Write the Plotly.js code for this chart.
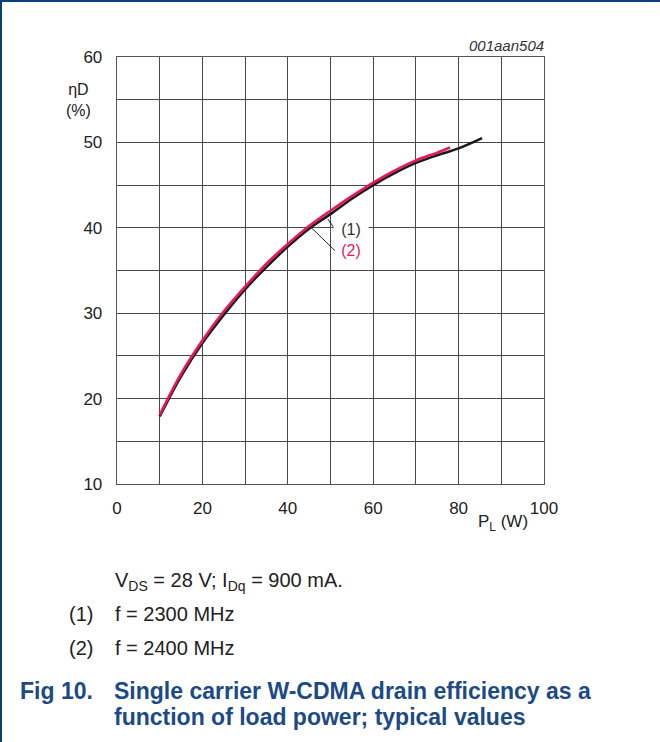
<!DOCTYPE html>
<html>
<head>
<meta charset="utf-8">
<script src="https://cdn.plot.ly/plotly-3.0.1.min.js"></script>
<style>
  html, body { margin: 0; padding: 0; background: #fff; }
  #chart { width: 660px; height: 742px; }
</style>
</head>
<body>
<div id="chart"></div>
<script>
// ---- data ----
const x1 = [10, 15, 20, 25, 30, 35, 40, 45, 50, 55, 60, 65, 70, 75, 80, 85.5];
const y1 = [17.9, 22.6, 26.5, 29.8, 32.8, 35.4, 37.8, 39.9, 41.6, 43.4, 45.0, 46.4, 47.6, 48.5, 49.3, 50.5];
const x2 = [10, 15, 20, 25, 30, 35, 40, 45, 50, 55, 60, 65, 70, 75, 78];
const y2 = [18.1, 22.9, 26.8, 30.2, 33.1, 35.8, 38.1, 40.2, 42.0, 43.7, 45.3, 46.7, 47.9, 48.8, 49.4];
const seriesLabels = ['(1)', '(2)'];
const labelX = [54.8, 54.8];
const labelY = [39.86, 37.3];
const leaderFrom = [[49.35, 41.03], [45.44, 40.05]];
const leaderTo = [[51.05, 39.86], [51.05, 37.32]];
const xTicks = [0, 20, 40, 60, 80, 100];
const yTicks = [10, 20, 30, 40, 50, 60];
const yTitle = 'ηD<br>(%)';
const xTitle = 'P<sub>L</sub> (W)';
const conditions = 'V<sub>DS</sub> = 28 V; I<sub>Dq</sub> = 900 mA.';
const notes = [['(1)', 'f = 2300 MHz'], ['(2)', 'f = 2400 MHz']];
const figNo = 'Fig 10.';
const figTitle = ['Single carrier W-CDMA drain efficiency as a', 'function of load power; typical values'];
const code = '001aan504';

// ---- layout helpers ----
const W = 660, H = 742;
const L = 117, R = 544, T = 57, B = 484;
const px = x => (x - L) / (R - L);
const py = y => (B - y) / (B - T);
const FONT = 'Liberation Sans, Arial, Helvetica, sans-serif';
const PINK = '#e8175d';
const BLUE = '#1b4a86';
const TXT = '#222';

const traces = [
  {x: x1, y: y1, mode: 'lines', line: {color: '#1a1a1a', width: 2.6, shape: 'spline'}, hoverinfo: 'skip'},
  {x: x2, y: y2, mode: 'lines', line: {color: PINK, width: 2.6, shape: 'spline'}, hoverinfo: 'skip'}
];

const annotations = [];
const shapes = [];

seriesLabels.forEach((t, i) => {
  annotations.push({x: labelX[i], y: labelY[i], xref: 'x', yref: 'y', text: t, showarrow: false,
    font: {family: FONT, size: 16, color: i === 0 ? '#333' : PINK},
    bgcolor: i === 0 ? '#fff' : 'rgba(0,0,0,0)', borderpad: 0, width: 34, xanchor: 'center'});
  shapes.push({type: 'line', xref: 'x', yref: 'y', x0: leaderFrom[i][0], y0: leaderFrom[i][1],
    x1: leaderTo[i][0], y1: leaderTo[i][1], line: {color: '#222', width: 1}});
});

// axis titles
annotations.push({xref: 'paper', yref: 'paper', x: px(78), y: py(100), text: yTitle, showarrow: false,
  font: {family: FONT, size: 16, color: TXT}, xanchor: 'center', yanchor: 'middle'});
annotations.push({xref: 'paper', yref: 'paper', x: px(530), y: py(523), text: xTitle, showarrow: false,
  font: {family: FONT, size: 17, color: TXT}, xanchor: 'right', yanchor: 'middle'});
annotations.push({xref: 'paper', yref: 'paper', x: px(546), y: py(46), text: '<i>' + code + '</i>', showarrow: false,
  font: {family: FONT, size: 15, color: '#333'}, xanchor: 'right', yanchor: 'middle'});

// captions
annotations.push({xref: 'paper', yref: 'paper', x: px(113), y: py(581), text: conditions, showarrow: false,
  font: {family: FONT, size: 20, color: TXT}, xanchor: 'left', yanchor: 'middle'});
notes.forEach((n, i) => {
  const yy = 614 + i * 34;
  annotations.push({xref: 'paper', yref: 'paper', x: px(67), y: py(yy), text: n[0], showarrow: false,
    font: {family: FONT, size: 20, color: TXT}, xanchor: 'left', yanchor: 'middle'});
  annotations.push({xref: 'paper', yref: 'paper', x: px(113), y: py(yy), text: n[1], showarrow: false,
    font: {family: FONT, size: 20, color: TXT}, xanchor: 'left', yanchor: 'middle'});
});
annotations.push({xref: 'paper', yref: 'paper', x: px(18), y: py(691), text: '<b>' + figNo + '</b>', showarrow: false,
  font: {family: FONT, size: 23, color: BLUE}, xanchor: 'left', yanchor: 'middle'});
figTitle.forEach((t, i) => {
  annotations.push({xref: 'paper', yref: 'paper', x: px(112), y: py(691 + i * 26), text: '<b>' + t + '</b>', showarrow: false,
    font: {family: FONT, size: 23, color: BLUE}, xanchor: 'left', yanchor: 'middle'});
});

// page border (top + left)
shapes.push({type: 'line', xref: 'paper', yref: 'paper', x0: px(0), x1: px(W), y0: py(1), y1: py(1), line: {color: '#0b3e7c', width: 2}});
shapes.push({type: 'line', xref: 'paper', yref: 'paper', x0: px(1), x1: px(1), y0: py(0), y1: py(H), line: {color: '#0b3e7c', width: 2}});

const layout = {
  width: W, height: H,
  margin: {l: L, r: W - R, t: T, b: H - B, pad: 0},
  paper_bgcolor: '#fff', plot_bgcolor: '#fff',
  showlegend: false,
  font: {family: FONT, size: 17, color: TXT},
  xaxis: {
    range: [0, 100], tickvals: xTicks, ticktext: xTicks.map(String),
    showgrid: true, gridcolor: '#4a4a4a', gridwidth: 1,
    minor: {dtick: 10, showgrid: true, gridcolor: '#4a4a4a', gridwidth: 1},
    zeroline: false, showline: true, linecolor: '#555', linewidth: 1.3, mirror: true,
    ticks: 'outside', ticklen: 8, tickcolor: 'rgba(0,0,0,0)',
    tickfont: {family: FONT, size: 17, color: TXT}, fixedrange: true
  },
  yaxis: {
    range: [10, 60], tickvals: yTicks, ticktext: yTicks.map(String),
    showgrid: true, gridcolor: '#4a4a4a', gridwidth: 1,
    minor: {dtick: 5, showgrid: true, gridcolor: '#4a4a4a', gridwidth: 1},
    zeroline: false, showline: true, linecolor: '#555', linewidth: 1.3, mirror: true,
    ticks: 'outside', ticklen: 10, tickcolor: 'rgba(0,0,0,0)',
    tickfont: {family: FONT, size: 17, color: TXT}, fixedrange: true
  },
  annotations: annotations,
  shapes: shapes
};

Plotly.newPlot('chart', traces, layout, {staticPlot: true, displayModeBar: false});
</script>
</body>
</html>
